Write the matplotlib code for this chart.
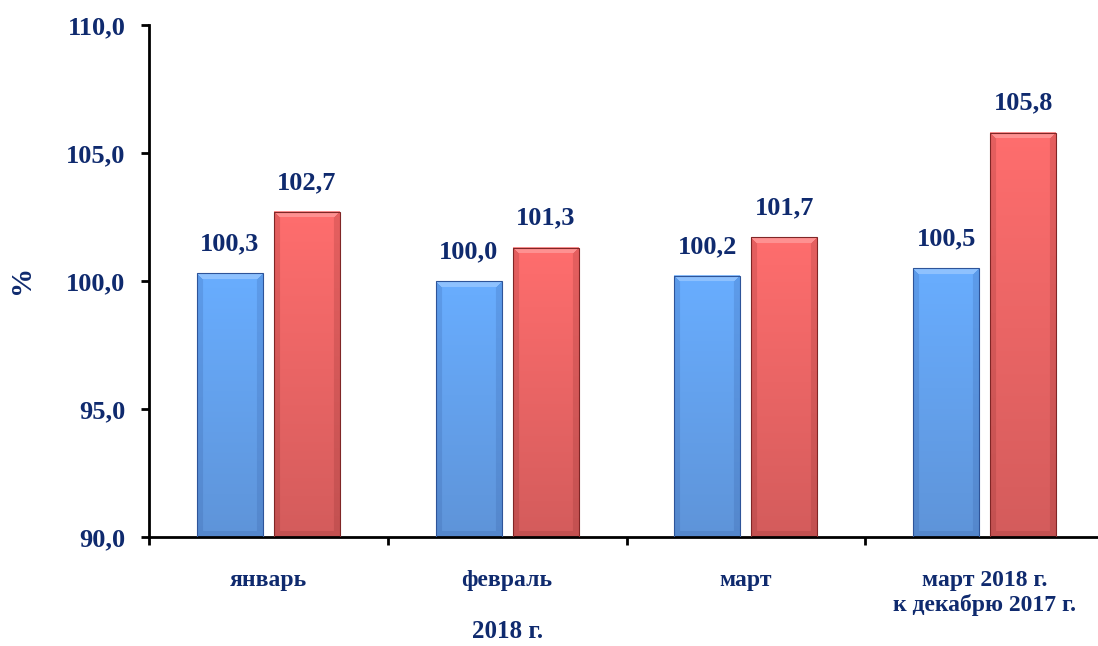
import numpy as np
import matplotlib.pyplot as plt

categories = ["январь", "февраль", "март", "март 2018 г.\nк декабрю 2017 г."]
blue_values = [100.3, 100.0, 100.2, 100.5]
red_values = [102.7, 101.3, 101.7, 105.8]
yticks = [90.0, 95.0, 100.0, 105.0, 110.0]

navy = "#0f2a6e"
plt.rcParams['font.family'] = ['Liberation Serif', 'DejaVu Serif']

W, H, DPI = 1098, 646, 100
fig = plt.figure(figsize=(W / DPI, H / DPI), dpi=DPI)
left, right, bottom, top = 149, 1104, 646 - 537, 646 - 25
ax = fig.add_axes([left / W, bottom / H, (right - left) / W, (top - bottom) / H])

ymin, ymax = 90, 110
px_per_x = (right - left) / 4.0
px_per_y = (top - bottom) / (ymax - ymin)


def bevel_image(w_px, h_px, top_c, bot_c, edge_c, bev=6):
    w_px, h_px = max(int(w_px), 2), max(int(h_px), 2)
    t = np.linspace(0, 1, h_px)[:, None, None]
    img = (1 - t) * np.array(top_c)[None, None, :] + t * np.array(bot_c)[None, None, :]
    img = np.repeat(img, w_px, axis=1)
    yy, xx = np.mgrid[0:h_px, 0:w_px]
    d_left, d_right = xx, w_px - 1 - xx
    d_top, d_bot = yy, h_px - 1 - yy
    light = np.array([1.0, 1.0, 1.0])
    dark = np.array(edge_c)
    b = min(bev, h_px // 2)
    m_top = (d_top < b) & (d_top <= d_left) & (d_top <= d_right)
    m_bot = (d_bot < b) & (d_bot <= d_left) & (d_bot <= d_right)
    m_side = ((d_left < bev) | (d_right < bev)) & ~m_top & ~m_bot
    img[m_top] = img[m_top] * 0.75 + light * 0.25
    img[m_side] = img[m_side] * 0.8 + dark * 0.2
    img[m_bot] = img[m_bot] * 0.8 + dark * 0.2
    return np.clip(img, 0, 1)


def draw_bars(xs, vals, top_c, bot_c, edge_c, width):
    bars = ax.bar(xs, [v - ymin for v in vals], width, bottom=ymin,
                  color="none", edgecolor="none", zorder=2)
    for b, v in zip(bars, vals):
        x0, x1 = b.get_x(), b.get_x() + b.get_width()
        img = bevel_image(b.get_width() * px_per_x, (v - ymin) * px_per_y,
                          top_c, bot_c, edge_c)
        ax.imshow(img, extent=[x0, x1, ymin, v], aspect="auto",
                  interpolation="bilinear", zorder=2)
        ax.add_patch(plt.Rectangle((x0, ymin), x1 - x0, v - ymin, fill=False,
                                   edgecolor=edge_c, linewidth=0.8, zorder=3))
        ax.text((x0 + x1) / 2, v + 0.7, f"{v:.1f}".replace(".", ","),
                ha="center", va="bottom", fontsize=19, fontweight="bold",
                color=navy, zorder=4)
    return bars


x = np.arange(len(categories))
bw = 0.276
off = 0.161
draw_bars(x - off, blue_values, (0.41, 0.68, 1.0), (0.37, 0.58, 0.85), (0.18, 0.33, 0.6), bw)
draw_bars(x + off, red_values, (1.0, 0.43, 0.43), (0.83, 0.36, 0.36), (0.5, 0.15, 0.15), bw)

ax.set_xlim(-0.5, 3.5)
ax.set_ylim(ymin, ymax)
ax.set_yticks(yticks)
ax.set_yticklabels([f"{v:.1f}".replace(".", ",") for v in yticks],
                   fontsize=19, fontweight="bold", color=navy)
ax.set_xticks(np.arange(-0.5, 3.6, 1.0))
ax.set_xticklabels([])
ax.tick_params(axis="y", length=6, width=2, pad=11, direction="out")
ax.tick_params(axis="x", length=6, width=2, direction="out")
for s in ["top", "right"]:
    ax.spines[s].set_visible(False)
for s in ["left", "bottom"]:
    ax.spines[s].set_linewidth(2)

for i, c in enumerate(categories):
    ax.text(i, 88.72, c, ha="center", va="top", fontsize=17, fontweight="bold",
            color=navy, linespacing=1.18)
ax.text(1, 86.3, "2018 г.", ha="center", va="center", fontsize=18,
        fontweight="bold", color=navy)
fig.text(21 / W, 1 - 279 / H, "%", rotation=90, ha="center", va="center",
         fontsize=21, fontweight="bold", color=navy)

fig.savefig("out.png", dpi=DPI)
